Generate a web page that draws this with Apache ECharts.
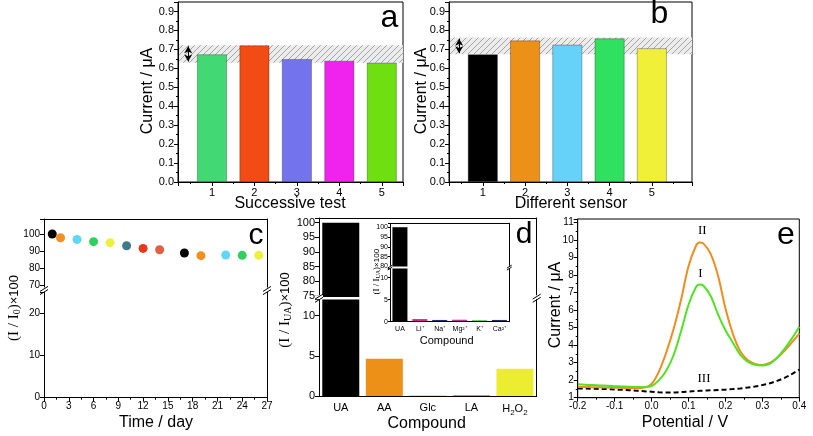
<!DOCTYPE html>
<html><head><meta charset="utf-8">
<script src="https://cdn.jsdelivr.net/npm/echarts@6/dist/echarts.min.js"></script>
<style>html,body{margin:0;padding:0;background:#fff}#c{width:813px;height:436px}</style>
</head><body><div id="c"></div><script>
// ---------------- data ----------------
const aCats = [1, 2, 3, 4, 5];
const aValues = [0.674, 0.721, 0.649, 0.640, 0.630];
const aBand = [0.630, 0.722];
const bCats = [1, 2, 3, 4, 5];
const bValues = [0.674, 0.747, 0.725, 0.758, 0.706];
const bBand = [0.674, 0.762];
const cDays = [1, 2, 4, 6, 8, 10, 12, 14, 17, 19, 22, 24, 26];
const cValues = [100, 97.8, 96.8, 95.5, 94.9, 93.1, 91.5, 90.7, 88.8, 87.2, 87.6, 87.4, 87.4];
const dCats = ['UA', 'AA', 'Glc', 'LA', 'H2O2'];
const dValues = [100, 4.66, 0.1, 0.15, 3.42];
const insetCats = ['UA', 'Li⁺', 'Na⁺', 'Mg²⁺', 'K⁺', 'Ca²⁺'];
const insetValues = [100, 0.6, 0.4, 0.45, 0.35, 0.4];
const ePotential = [-0.2,-0.18,-0.16,-0.14,-0.12,-0.1,-0.08,-0.06,-0.04,-0.02,0,0.02,0.04,0.06,0.08,0.1,0.12,0.13,0.14,0.16,0.18,0.2,0.22,0.24,0.26,0.28,0.3,0.32,0.34,0.36,0.38,0.4];
const eCurveII = [1.62,1.61,1.60,1.59,1.58,1.57,1.56,1.55,1.55,1.58,1.78,2.5,3.6,4.95,6.6,8.5,9.65,9.85,9.8,9.2,7.95,6.1,4.65,3.65,3.15,2.93,2.87,2.98,3.28,3.68,4.15,4.65];
const eCurveI = [1.76,1.74,1.72,1.70,1.68,1.66,1.64,1.62,1.61,1.60,1.66,2.0,2.55,3.45,4.8,6.3,7.3,7.46,7.4,6.8,5.75,4.85,4.15,3.45,3.05,2.88,2.84,2.93,3.28,3.78,4.38,5.05];
const eCurveIII = [1.52,1.52,1.51,1.50,1.49,1.47,1.45,1.43,1.40,1.37,1.34,1.31,1.30,1.30,1.32,1.35,1.38,1.39,1.40,1.42,1.44,1.46,1.49,1.53,1.58,1.64,1.72,1.82,1.96,2.13,2.35,2.6];

// ---------------- styles ----------------
const aColors = ['#42d873', '#f04c14', '#7373ee', '#f022ee', '#6ee012'];
const bColors = ['#000000', '#ec9018', '#66d2fa', '#30e060', '#f0f038'];
const cColors = ['#000000', '#f09020', '#62d6f6', '#30d060', '#eef040', '#3f7a8a', '#e83818', '#e06040', '#000000', '#f09020', '#62d6f6', '#30d060', '#eef040'];
const dColors = ['#000000', '#ec9018', '#66d2fa', '#40e060', '#ecec30'];
const insetColors = ['#000000', '#e02090', '#203070', '#c030a0', '#40d040', '#203060'];
const FONT = '"Liberation Sans", Arial, sans-serif';
const SERIF = '"Liberation Serif", "Times New Roman", serif';

// hatch pattern
const pc = document.createElement('canvas'); pc.width = 6; pc.height = 6;
const pctx = pc.getContext('2d');
pctx.fillStyle = '#ececec'; pctx.fillRect(0, 0, 6, 6);
pctx.strokeStyle = '#a4a4a4'; pctx.lineWidth = 1;
pctx.beginPath(); pctx.moveTo(0, 6); pctx.lineTo(6, 0); pctx.moveTo(-1, 1); pctx.lineTo(1, -1); pctx.moveTo(5, 7); pctx.lineTo(7, 5); pctx.stroke();
const hatch = { image: pc, repeat: 'repeat' };

function ax(o) {
  const a = {
    type: o.type || 'value', gridIndex: o.g,
    axisLine: { show: true, onZero: false, lineStyle: { color: '#000', width: 1 } },
    axisTick: { show: o.tick !== false, length: o.tickLen || 4, inside: false, alignWithLabel: true, lineStyle: { color: '#000' } },
    minorTick: { show: !!o.minor, splitNumber: 2, length: 2, lineStyle: { color: '#000' } },
    axisLabel: { show: o.label !== false, color: '#000', fontSize: o.fs || 11, fontFamily: FONT, margin: o.margin || 4 },
    splitLine: { show: false }, minorSplitLine: { show: false }, z: 5
  };
  if (o.pos) a.position = o.pos;
  if (o.min !== undefined) a.min = o.min;
  if (o.max !== undefined) a.max = o.max;
  if (o.interval !== undefined) a.interval = o.interval;
  if (o.data) a.data = o.data;
  if (o.fmt) a.axisLabel.formatter = o.fmt;
  if (o.rich) a.axisLabel.rich = o.rich;
  if (a.type === 'category') { a.boundaryGap = true; a.axisLabel.interval = 0; a.axisLabel.hideOverlap = false; }
  return a;
}
const near = (v, s) => Math.abs(v / s - Math.round(v / s)) < 1e-6;
const fmt1 = v => near(v, 0.1) ? v.toFixed(1) : '';
const fmtInt = v => near(v, 1) && v <= 5 ? String(Math.round(v)) : '';

const A_X = [0.2, 5.5], B_X = [0.2, 5.95];

const grids = [
  { left: 178, top: 2, width: 225, height: 180, show: true, borderColor: '#000', borderWidth: 1 },
  { left: 449, top: 2, width: 243, height: 180, show: true, borderColor: '#000', borderWidth: 1 },
  { left: 44, top: 219, width: 223, height: 70 },
  { left: 44, top: 292, width: 223, height: 105.7 },
  { left: 319, top: 218, width: 217.7, height: 79 },
  { left: 319, top: 299.5, width: 217.7, height: 96.8 },
  { left: 390, top: 223.3, width: 119.3, height: 43.2 },
  { left: 390, top: 268.5, width: 119.3, height: 53.2 },
  { left: 577.7, top: 219, width: 221.6, height: 178.7, show: true, borderColor: '#000', borderWidth: 1 }
];

const xAxis = [
  ax({ g: 0, min: A_X[0], max: A_X[1], fmt: fmtInt, minor: true, margin: 5 }),
  ax({ g: 1, min: B_X[0], max: B_X[1], fmt: fmtInt, minor: true, margin: 5 }),
  ax({ g: 2, pos: 'top', min: 0, max: 27, tick: false, label: false }),
  ax({ g: 3, min: 0, max: 27, interval: 3, fs: 10, minor: true }),
  ax({ g: 4, type: 'category', data: dCats, pos: 'top', tick: false, label: false }),
  ax({ g: 5, type: 'category', data: dCats, tick: false, fs: 11, margin: 6,
       fmt: v => v === 'H2O2' ? 'H{s|2}O{s|2}' : v, rich: { s: { fontSize: 8, fontFamily: FONT, padding: [6, 0, 0, 0] } } }),
  ax({ g: 6, type: 'category', data: insetCats, pos: 'top', tick: false, label: false }),
  ax({ g: 7, type: 'category', data: insetCats, tick: false, fs: 7, margin: 4 }),
  ax({ g: 8, min: -0.2, max: 0.4, interval: 0.1, fs: 10, minor: true, fmt: v => v.toFixed(1) })
];

const yAxis = [
  ax({ g: 0, min: 0, max: 0.95, interval: 0.1, fmt: fmt1, minor: true }),
  ax({ g: 1, min: 0, max: 0.95, interval: 0.1, fmt: fmt1, minor: true }),
  ax({ g: 2, min: 67.5, max: 108.9, fs: 10, fmt: v => near(v, 10) ? String(Math.round(v)) : '' }),
  ax({ g: 3, min: 0, max: 25, interval: 10, fs: 10, fmt: v => near(v, 10) && v <= 20 ? String(Math.round(v)) : '' }),
  ax({ g: 4, min: 74.55, max: 101.6, fs: 11, fmt: v => near(v, 5) ? String(Math.round(v)) : '' }),
  ax({ g: 5, min: 0, max: 12, interval: 5, fs: 11, fmt: v => near(v, 5) && v <= 10 ? String(Math.round(v)) : '' }),
  ax({ g: 6, min: 80, max: 102, interval: 5, fs: 7, tickLen: 2, margin: 2, fmt: v => near(v, 5) ? String(Math.round(v)) : '' }),
  ax({ g: 7, min: 0, max: 12.1, interval: 5, fs: 7, tickLen: 2, margin: 2, fmt: v => near(v, 5) && v <= 10 ? String(Math.round(v)) : '' }),
  ax({ g: 8, min: 1, max: 11.19, interval: 1, fs: 10, minor: true, fmt: v => near(v, 1) ? String(Math.round(v)) : '' }),
  // right-side frame lines for broken panels
  ax({ g: 2, pos: 'right', min: 67.5, max: 108.9, tick: false, label: false }),
  ax({ g: 3, pos: 'right', min: 0, max: 25, tick: false, label: false }),
  ax({ g: 4, pos: 'right', min: 74.55, max: 101.6, tick: false, label: false }),
  ax({ g: 5, pos: 'right', min: 0, max: 12, tick: false, label: false }),
  ax({ g: 6, pos: 'right', min: 80, max: 102, tick: false, label: false }),
  ax({ g: 7, pos: 'right', min: 0, max: 12.1, tick: false, label: false })
];

function barSeries(xi, yi, cats, vals, colors, width, border) {
  return {
    type: 'bar', xAxisIndex: xi, yAxisIndex: yi, barWidth: width, clip: true, z: 2,
    data: cats.map((c, i) => ({ value: [c, vals[i]], itemStyle: { color: colors[i], borderColor: border, borderWidth: border ? 0.8 : 0 } })),
    silent: true, animation: false
  };
}
function bandMarks(band, xr, arrowX) {
  return {
    markArea: { silent: true, z: 1, itemStyle: { color: hatch, borderWidth: 0 },
      data: [[{ coord: [xr[0], band[0]] }, { coord: [xr[1], band[1]] }]] },
    markLine: { silent: true, symbol: ['arrow', 'arrow'], symbolSize: [6, 7], label: { show: false },
      lineStyle: { color: '#000', width: 1, type: 'solid' },
      data: [[{ coord: [arrowX, band[0] + 0.006] }, { coord: [arrowX, band[1] - 0.006] }]] }
  };
}

const series = [];
series.push(Object.assign(barSeries(0, 0, aCats, aValues, aColors, 30, 'rgba(0,0,0,0.35)'), bandMarks(aBand, A_X, 0.44)));
series.push(Object.assign(barSeries(1, 1, bCats, bValues, bColors, 30, 'rgba(0,0,0,0.35)'), bandMarks(bBand, B_X, 0.44)));
series.push({
  type: 'scatter', xAxisIndex: 2, yAxisIndex: 2, symbolSize: 9, z: 3, animation: false,
  data: cDays.map((d, i) => ({ value: [d, cValues[i]], itemStyle: { color: cColors[i], opacity: 1 } }))
});
series.push({ type: 'bar', xAxisIndex: 4, yAxisIndex: 4, barWidth: 37, clip: true, animation: false,
  data: dValues.map((v, i) => ({ value: v, itemStyle: { color: dColors[i] } })) });
series.push({ type: 'bar', xAxisIndex: 5, yAxisIndex: 5, barWidth: 37, clip: true, animation: false,
  data: dValues.map((v, i) => ({ value: v, itemStyle: { color: dColors[i] } })) });
series.push({ type: 'bar', xAxisIndex: 6, yAxisIndex: 6, barWidth: 15, clip: true, animation: false,
  data: insetValues.map((v, i) => ({ value: v, itemStyle: { color: insetColors[i] } })) });
series.push({ type: 'bar', xAxisIndex: 7, yAxisIndex: 7, barWidth: 15, clip: true, animation: false,
  data: insetValues.map((v, i) => ({ value: v, itemStyle: { color: insetColors[i] } })) });
const eLine = (vals, color, dash) => ({
  type: 'line', xAxisIndex: 8, yAxisIndex: 8, smooth: 0.35, showSymbol: false, symbol: 'none', animation: false, z: 3,
  lineStyle: { color: color, width: 2, type: dash ? [5, 3] : 'solid' },
  data: ePotential.map((p, i) => [p, vals[i]])
});
series.push(eLine(eCurveIII, '#000000', true));
series.push(eLine(eCurveII, '#f08c20', false));
series.push(eLine(eCurveI, '#52e224', false));

// ---------------- texts ----------------
function txt(x, y, text, size, opts) {
  opts = opts || {};
  return {
    type: 'text', x: x, y: y, rotation: opts.rot || 0, z: 100,
    style: { text: text, fontSize: size, fontFamily: opts.font || FONT, fill: '#000',
      align: 'center', verticalAlign: 'middle', textAlign: 'center', textVerticalAlign: 'middle', rich: opts.rich }
  };
}
function brk(x, y, s) {
  s = s || 1;
  const L = (dy) => ({ type: 'line', z: 100, shape: { x1: x - 4 * s, y1: y + dy + 2.5 * s, x2: x + 4 * s, y2: y + dy - 2.5 * s },
    style: { stroke: '#000', lineWidth: 1 } });
  return [
    { type: 'rect', z: 99, shape: { x: x - 4 * s, y: y - 3 * s, width: 8 * s, height: 4 * s }, style: { fill: '#fff' } },
    L(-1.6 * s), L(1.6 * s)
  ];
}
const yRich = (n, s) => ({
  n: { fontFamily: SERIF, fontSize: n }, s: { fontFamily: SERIF, fontSize: s, padding: [Math.round(n * 0.45), 0, 0, 0] },
  m: { fontFamily: FONT, fontSize: Math.round(n * 0.85) }
});
const graphics = [
  txt(147.5, 91, 'Current / μA', 16, { rot: Math.PI / 2 }),
  txt(290, 204, 'Successive test', 16),
  txt(389.5, 18, 'a', 32),
  txt(421.5, 91, 'Current / μA', 16, { rot: Math.PI / 2 }),
  txt(571, 204, 'Different sensor', 16),
  txt(659.5, 14, 'b', 32),
  txt(14, 308, '{n|(I / I}{s|0}{n|)}{m|×100}', 15, { rot: Math.PI / 2, rich: yRich(15, 10) }),
  txt(156, 423, 'Time / day', 16),
  txt(256, 236, 'c', 30),
  txt(285, 310, '{n|(I / I}{s|UA}{n|)}{m|×100}', 15, { rot: Math.PI / 2, rich: yRich(15, 10) }),
  txt(426.7, 424, 'Compound', 16),
  txt(524, 235, 'd', 30),
  txt(376.7, 271.7, '{n|(I / I}{s|UA}{n|)}{m|×100}', 9, { rot: Math.PI / 2, rich: yRich(9, 6) }),
  txt(446.7, 340.7, 'Compound', 11),
  txt(556, 305, 'Current / μA', 16, { rot: Math.PI / 2 }),
  txt(685, 423, 'Potential / V', 16),
  txt(786, 235, 'e', 32),
  txt(702.3, 231, 'II', 13, { font: SERIF }),
  txt(700.3, 274, 'I', 13, { font: SERIF }),
  txt(704, 378.3, 'III', 13, { font: SERIF })
].concat(brk(44, 290.5), brk(267, 290.5), brk(319, 298.2), brk(536.7, 298.2), brk(390, 267.6, 0.6), brk(509.3, 267.6, 0.6));

const chart = echarts.init(document.getElementById('c'), null, { renderer: 'canvas', width: 813, height: 436 });
chart.setOption({
  animation: false,
  textStyle: { fontFamily: FONT },
  grid: grids, xAxis: xAxis, yAxis: yAxis, series: series, graphic: graphics
});
</script></body></html>
